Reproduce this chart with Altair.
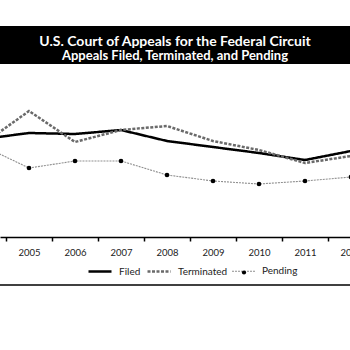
import altair as alt
import pandas as pd

years = [2004, 2005, 2006, 2007, 2008, 2009, 2010, 2011, 2012]
filed = [1470, 1560, 1545, 1605, 1440, 1350, 1260, 1155, 1290]
terminated = [1395, 1890, 1425, 1605, 1665, 1440, 1305, 1110, 1215]
pending = [1365, 1035, 1140, 1140, 930, 840, 795, 840, 900]
series_names = ["Filed", "Terminated", "Pending"]
tick_bounds = [2004.5, 2005.5, 2006.5, 2007.5, 2008.5, 2009.5, 2010.5, 2011.5]
title_line1 = ["U.S. Court of Appeals for the Federal Circuit"]
title_line2 = ["Appeals Filed, Terminated, and Pending"]

rows = []
for name, vals in zip(series_names, [filed, terminated, pending]):
    for yr, v in zip(years, vals):
        rows.append({"year": yr, "series": name, "value": v})
df = pd.DataFrame(rows)
df_pend = df[df["series"] == "Pending"].assign(dot="Pending")

FONT = "Lato"

x_enc = alt.X(
    "year:Q",
    scale=alt.Scale(domain=[2004.36957, 2011.97826], nice=False, zero=False),
    axis=alt.Axis(
        values=tick_bounds,
        labelExpr="'' + (floor(datum.value) + 1)",
        labelOffset=23,
        tickSize=4,
        tickWidth=1.5,
        tickColor="black",
        domainColor="black",
        domainWidth=1.5,
        labelFont=FONT,
        labelFontSize=9.5,
        labelColor="#222222",
        labelPadding=6,
        labelFlush=False,
        labelOverlap=False,
        grid=False,
        title=None,
    ),
)
y_enc = alt.Y("value:Q", scale=alt.Scale(domain=[0, 3555], nice=False, zero=False), axis=None)

leg = alt.Legend(
    orient="none",
    legendX=87,
    legendY=258.5,
    direction="horizontal",
    title=None,
    symbolType="stroke",
    symbolSize=529,
    labelFont=FONT,
    labelFontSize=10,
    labelColor="#222222",
    labelOffset=6,
    columnPadding=1,
    padding=0,
)

lines = alt.Chart(df).mark_line().encode(
    x=x_enc,
    y=y_enc,
    color=alt.Color("series:N", sort=series_names,
                    scale=alt.Scale(domain=series_names, range=["black", "#6a6a6a", "#8f8f8f"]),
                    legend=leg),
    strokeDash=alt.StrokeDash("series:N", sort=series_names,
                              scale=alt.Scale(domain=series_names, range=[[1, 0], [3, 1.5], [2, 1]]),
                              legend=leg),
    strokeWidth=alt.StrokeWidth("series:N", sort=series_names,
                                scale=alt.Scale(type="ordinal", domain=series_names, range=[2.5, 2.5, 1.1]),
                                legend=leg),
)

dots = alt.Chart(df_pend).mark_point(filled=True, color="black", size=22, opacity=1).encode(
    x="year:Q",
    y="value:Q",
    shape=alt.Shape("dot:N", scale=alt.Scale(range=["circle"]),
                    legend=alt.Legend(orient="none", legendX=239, legendY=267.5, title=None,
                                      labelExpr="''", symbolSize=18, symbolFillColor="black",
                                      symbolStrokeColor="black", padding=0)),
)

header = alt.Chart(pd.DataFrame({"a": [0]})).mark_rect(color="black").encode(
    x=alt.value(0), x2=alt.value(350), y=alt.value(26), y2=alt.value(64)
)
t1 = alt.Chart(pd.DataFrame({"t": title_line1})).mark_text(
    font=FONT, fontWeight="bold", fontSize=14, color="white", align="center", baseline="alphabetic"
).encode(x=alt.value(175), y=alt.value(45.5), text="t:N")
t2 = alt.Chart(pd.DataFrame({"t": title_line2})).mark_text(
    font=FONT, fontWeight="bold", fontSize=13, color="white", align="center", baseline="alphabetic"
).encode(x=alt.value(175), y=alt.value(60), text="t:N")
bottom = alt.Chart(pd.DataFrame({"a": [0]})).mark_rule(color="black", strokeWidth=1.5).encode(
    x=alt.value(0), x2=alt.value(350), y=alt.value(285)
)

chart = alt.layer(header, t1, t2, lines, dots, bottom).properties(
    width=350,
    height=237,
    autosize=alt.AutoSizeParams(type="none"),
    padding={"left": 0, "top": 0, "right": 0, "bottom": 113},
    background="white",
).configure_view(stroke=None)

chart.save("out.html", embed_options={"renderer": "svg", "actions": False})
